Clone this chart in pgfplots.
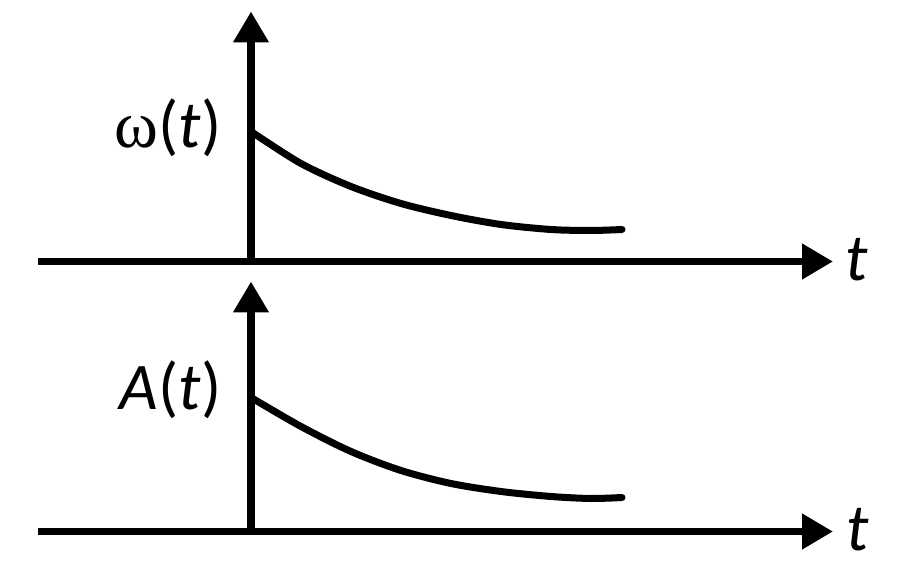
\documentclass[border=0pt]{standalone}
\usepackage{pgfplots}
\pgfplotsset{compat=1.18}
\usetikzlibrary{arrows.meta}
\usepackage{fontspec}
\setmainfont{Carlito}
\newfontfamily\grk{Liberation Serif}

% one pixel of the reference = 0.3pt
\pgfplotsset{
  sketch/.style={
    x=0.3pt, y=0.3pt,
    xmin=-213, xmax=582, ymin=0, ymax=250,
    axis lines=middle,
    axis line style={line width=2.25pt, -{Triangle[length=9.3pt,width=10.2pt]}},
    xtick=\empty, ytick=\empty,
    clip=false,
    anchor=origin,
  },
  curve/.style={black, line width=2.1pt, line cap=round, smooth, no markers},
}

\begin{document}
\begin{tikzpicture}
% upper panel: omega(t)
\begin{axis}[sketch, at={(75.3pt,92.85pt)}]
\addplot[curve] coordinates {
  (0,130) (50,98) (100,75) (150,58) (200,46) (250,37) (300,32) (340,31) (371,32)
};
\node[anchor=base east, inner sep=0pt] at (axis cs:-29,113.5)
  {\fontsize{20}{24}\selectfont{\grk ω}(\textit{t})};
\node[anchor=base west, inner sep=0pt] at (axis cs:594,-19.5)
  {\fontsize{20}{24}\selectfont\textit{t}};
\end{axis}

% lower panel: A(t)
\begin{axis}[sketch, at={(75.3pt,11.85pt)}]
\addplot[curve] coordinates {
  (0,134) (50,105) (100,80) (150,61) (200,48) (250,40) (300,35) (340,33) (371,34)
};
\node[anchor=base east, inner sep=0pt] at (axis cs:-29,121.5)
  {\fontsize{20}{24}\selectfont\textit{A}(\textit{t})};
\node[anchor=base west, inner sep=0pt] at (axis cs:595,-18.5)
  {\fontsize{20}{24}\selectfont\textit{t}};
\end{axis}

\pgfresetboundingbox
\path[use as bounding box] (0,0) rectangle (270pt,171.3pt);
\end{tikzpicture}
\end{document}
